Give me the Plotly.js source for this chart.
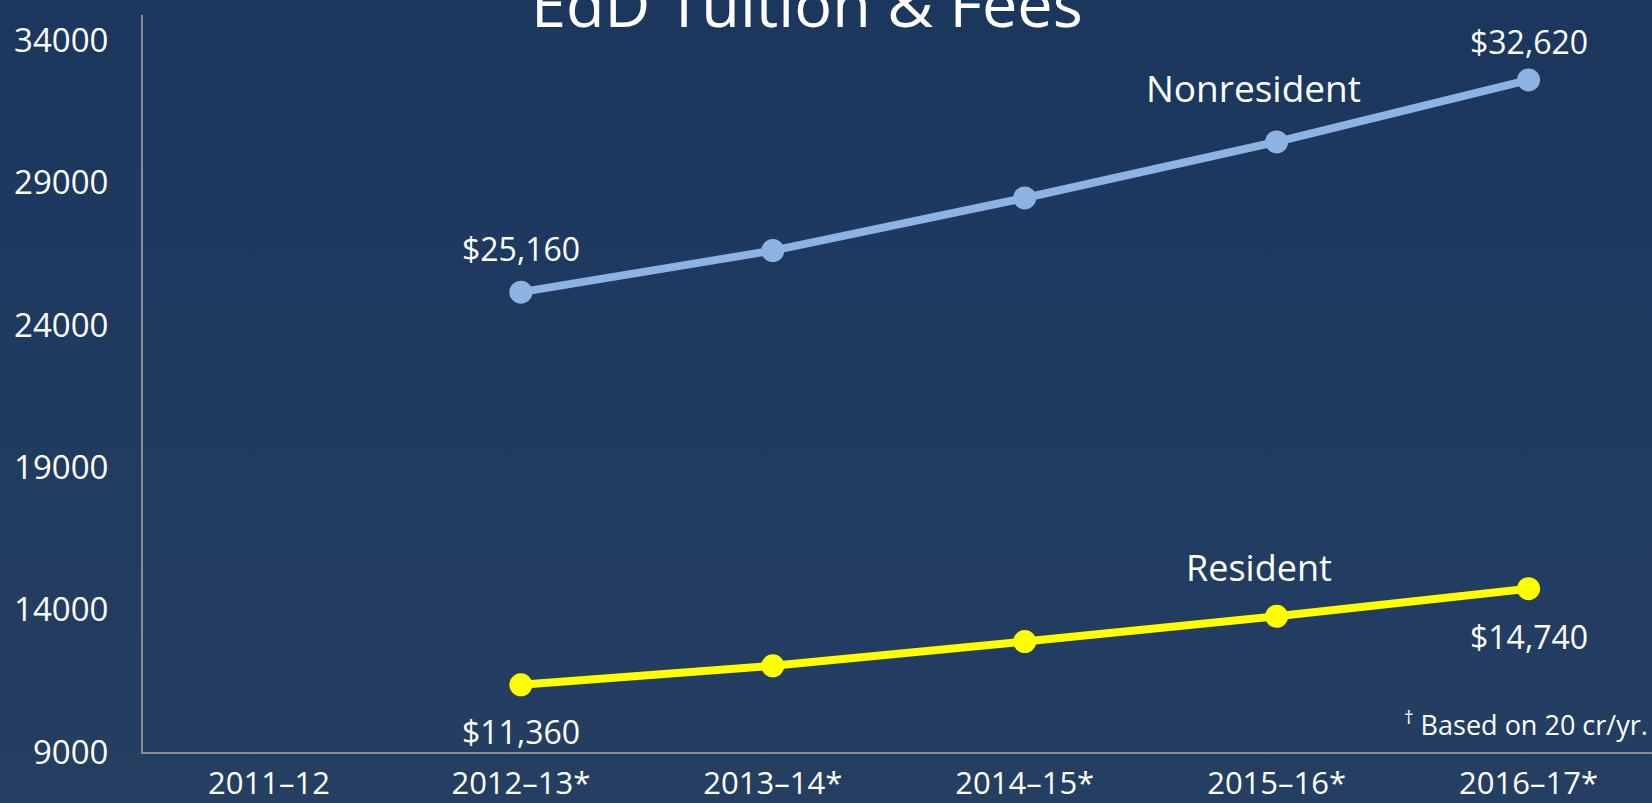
<!DOCTYPE html>
<html>
<head>
<meta charset="utf-8">
<script src="https://cdn.plot.ly/plotly-3.0.1.min.js"></script>
<style>
  html, body { margin: 0; padding: 0; }
  body { width: 1652px; height: 803px; background: linear-gradient(to bottom, #1b375e 0%, #243f62 100%); overflow: hidden; }
  #chart { width: 1652px; height: 803px; }
</style>
</head>
<body>
<div id="chart"></div>
<script>
// ---- data ----
const years = ["2011–12", "2012–13*", "2013–14*", "2014–15*", "2015–16*", "2016–17*"];
const nonresident = [null, 25160, 26620, 28470, 30440, 32620];
const resident = [null, 11360, 12030, 12880, 13770, 14740];
const yTicks = [9000, 14000, 19000, 24000, 29000, 34000];
const chartTitle = "EdD Tuition & Fees";
const seriesNames = ["Nonresident", "Resident"];
const footnote = "<sup>†</sup> Based on 20 cr/yr.";

// ---- styles ----
const FONT = "Open Sans, Noto Sans, sans-serif";
const NONRES_COLOR = "#8db3e2";
const RES_COLOR = "#ffff00";
const AXIS_COLOR = "#8c8c8c";

const fmt = v => "$" + v.toLocaleString("en-US");

const traces = [
  {
    x: years, y: nonresident, type: "scatter", mode: "lines+markers",
    name: seriesNames[0], connectgaps: false,
    line: { color: NONRES_COLOR, width: 8 },
    marker: { color: NONRES_COLOR, size: 23 },
    cliponaxis: false, hoverinfo: "skip"
  },
  {
    x: years, y: resident, type: "scatter", mode: "lines+markers",
    name: seriesNames[1], connectgaps: false,
    line: { color: RES_COLOR, width: 8 },
    marker: { color: RES_COLOR, size: 23 },
    cliponaxis: false, hoverinfo: "skip"
  }
];

const firstIdx = 1, lastIdx = years.length - 1;
const annotations = [
  // data value labels
  { x: years[firstIdx], y: nonresident[firstIdx], xref: "x", yref: "y", text: fmt(nonresident[firstIdx]),
    showarrow: false, yshift: 44, font: { family: FONT, size: 32, color: "#ffffff" } },
  { x: years[lastIdx], y: nonresident[lastIdx], xref: "x", yref: "y", text: fmt(nonresident[lastIdx]),
    showarrow: false, yshift: 38, font: { family: FONT, size: 32, color: "#ffffff" } },
  { x: years[firstIdx], y: resident[firstIdx], xref: "x", yref: "y", text: fmt(resident[firstIdx]),
    showarrow: false, yshift: -47, font: { family: FONT, size: 32, color: "#ffffff" } },
  { x: years[lastIdx], y: resident[lastIdx], xref: "x", yref: "y", text: fmt(resident[lastIdx]),
    showarrow: false, yshift: -48, font: { family: FONT, size: 32, color: "#ffffff" } },
  // series names
  { x: 0.736, y: 0.901, xref: "paper", yref: "paper", text: seriesNames[0], showarrow: false,
    xanchor: "center", yanchor: "middle", font: { family: FONT, size: 37, color: "#ffffff" } },
  { x: 0.7396, y: 0.2497, xref: "paper", yref: "paper", text: seriesNames[1], showarrow: false,
    xanchor: "center", yanchor: "middle", font: { family: FONT, size: 36, color: "#ffffff" } },
  // footnote
  { x: 0.9987, y: 0.038, xref: "paper", yref: "paper", text: footnote, showarrow: false,
    xanchor: "right", yanchor: "middle", font: { family: FONT, size: 27, color: "#ffffff" } },
  // clipped title
  { x: 0.44, y: 0.957, xref: "paper", yref: "paper", text: chartTitle, showarrow: false,
    xanchor: "center", yanchor: "bottom", font: { family: FONT, size: 63, color: "#ffffff" } }
];

const layout = {
  width: 1652, height: 803,
  margin: { l: 143, r: 0, t: 15, b: 51 },
  paper_bgcolor: "rgba(0,0,0,0)",
  plot_bgcolor: "rgba(0,0,0,0)",
  showlegend: false,
  font: { family: FONT, color: "#ffffff" },
  xaxis: {
    type: "category", range: [-0.5, 5.49],
    showline: true, linecolor: AXIS_COLOR, linewidth: 2,
    showgrid: false, zeroline: false, ticks: "",
    ticklabelstandoff: 3,
    tickfont: { family: FONT, size: 31, color: "#ffffff" }
  },
  yaxis: {
    range: [9000, 34900], tickvals: yTicks, ticktext: yTicks.map(String),
    showline: true, linecolor: AXIS_COLOR, linewidth: 2,
    showgrid: false, zeroline: false, ticks: "",
    ticklabelstandoff: 26,
    tickfont: { family: FONT, size: 33, color: "#ffffff" }
  },
  annotations: annotations
};

Plotly.newPlot("chart", traces, layout, { displayModeBar: false, staticPlot: true });
</script>
</body>
</html>
